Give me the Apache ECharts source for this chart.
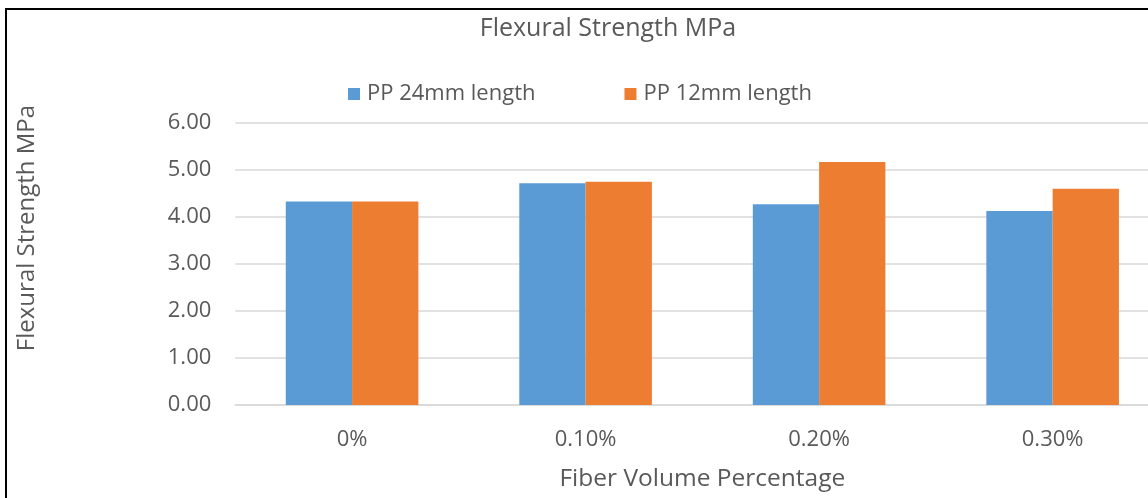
<!DOCTYPE html>
<html>
<head>
<meta charset="utf-8">
<style>
  html, body { margin: 0; padding: 0; background: #fff; overflow: hidden; }
  #chart { width: 1170px; height: 498px; }
</style>
<script src="https://cdn.jsdelivr.net/npm/echarts@6/dist/echarts.min.js"></script>
</head>
<body>
<div id="chart"></div>
<script>
// Fiber volume fractions on the category axis
const categories = ['0%', '0.10%', '0.20%', '0.30%'];
// Flexural strength (MPa) per fibre length
const pp24mm = [4.33, 4.72, 4.27, 4.13];
const pp12mm = [4.33, 4.75, 5.17, 4.60];
const seriesNames = ['PP 24mm length', 'PP 12mm length'];
const yTicks = { min: 0, max: 6, interval: 1 };

const FONT = '"Open Sans", "Noto Sans", sans-serif';
const TEXT = '#595959';

const chart = echarts.init(document.getElementById('chart'), null, { renderer: 'canvas' });

chart.setOption({
  backgroundColor: '#ffffff',
  animation: false,
  color: ['#5B9BD5', '#ED7D31'],
  legend: {
    data: seriesNames,
    top: 78,
    left: 343,
    itemWidth: 12,
    itemHeight: 12,
    itemGap: 89,
    icon: 'rect',
    textStyle: { color: TEXT, fontFamily: FONT, fontSize: 22, padding: [0, 0, 0, 2] }
  },
  grid: { left: 235.3, right: 0.6, top: 123, bottom: 93, containLabel: false },
  xAxis: {
    type: 'category',
    data: categories,
    name: 'Fiber Volume Percentage',
    nameLocation: 'middle',
    nameGap: 62,
    nameTextStyle: { color: TEXT, fontFamily: FONT, fontSize: 24.5 },
    axisLine: { lineStyle: { color: '#d9d9d9', width: 1.5 } },
    axisTick: { show: false },
    axisLabel: { color: TEXT, fontFamily: FONT, fontSize: 22, margin: 24 }
  },
  yAxis: {
    type: 'value',
    min: yTicks.min,
    max: yTicks.max,
    interval: yTicks.interval,
    axisLine: { show: false },
    axisTick: { show: false },
    axisLabel: {
      color: TEXT, fontFamily: FONT, fontSize: 22, margin: 24,
      formatter: v => v.toFixed(2)
    },
    splitLine: { lineStyle: { color: '#d9d9d9', width: 1.5 } }
  },
  series: [
    { name: seriesNames[0], type: 'bar', data: pp24mm, barWidth: 66.3, barGap: '0%', barCategoryGap: '43%' },
    { name: seriesNames[1], type: 'bar', data: pp12mm, barWidth: 66.3, barGap: '0%', barCategoryGap: '43%' }
  ],
  graphic: [
    {
      type: 'rect',
      silent: true,
      shape: { x: 6, y: 9, width: 1190, height: 520 },
      style: { fill: 'none', stroke: '#000', lineWidth: 2 }
    },
    {
      // chart title
      type: 'text',
      silent: true,
      x: 608,
      y: 29,
      style: {
        text: 'Flexural Strength MPa',
        fill: TEXT,
        font: '25px ' + FONT,
        textAlign: 'center',
        textVerticalAlign: 'middle'
      }
    },
    {
      // value axis title
      type: 'text',
      silent: true,
      x: 27,
      y: 228,
      rotation: Math.PI / 2,
      style: {
        text: 'Flexural Strength MPa',
        fill: TEXT,
        font: '24px ' + FONT,
        textAlign: 'center',
        textVerticalAlign: 'middle'
      }
    }
  ]
});
</script>
</body>
</html>
